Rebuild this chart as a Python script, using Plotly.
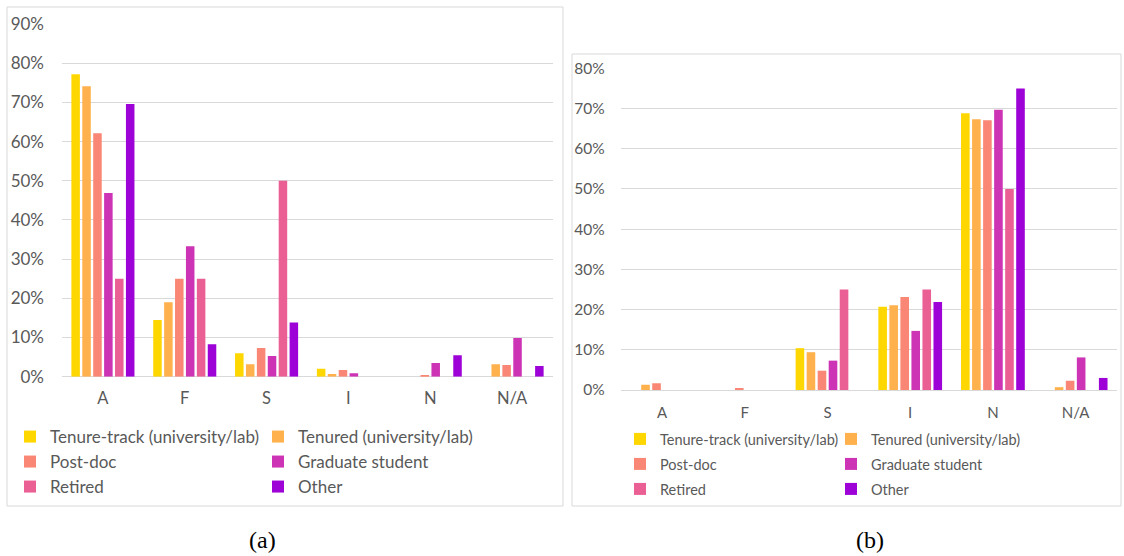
import plotly.graph_objects as go

categories = ["A", "F", "S", "I", "N", "N/A"]
groups = ["Tenure-track (university/lab)", "Tenured (university/lab)", "Post-doc",
          "Graduate student", "Retired", "Other"]
colors = ["#FFD700", "#FFB14E", "#FA8775", "#CD34B5", "#EA5F94", "#9D02D7"]

# panel (a)
tt_a = [0.772, 0.145, 0.060, 0.020, 0.0, 0.0]
tenured_a = [0.741, 0.190, 0.032, 0.007, 0.0, 0.032]
postdoc_a = [0.621, 0.250, 0.073, 0.017, 0.004, 0.030]
grad_a = [0.469, 0.333, 0.053, 0.009, 0.035, 0.099]
retired_a = [0.250, 0.250, 0.500, 0.0, 0.0, 0.0]
other_a = [0.696, 0.083, 0.138, 0.0, 0.055, 0.027]

# panel (b)
tt_b = [0.0, 0.0, 0.104, 0.207, 0.688, 0.0]
tenured_b = [0.013, 0.0, 0.094, 0.211, 0.673, 0.007]
postdoc_b = [0.017, 0.005, 0.048, 0.231, 0.671, 0.023]
grad_b = [0.0, 0.0, 0.073, 0.147, 0.697, 0.081]
retired_b = [0.0, 0.0, 0.250, 0.250, 0.500, 0.0]
other_b = [0.0, 0.0, 0.0, 0.219, 0.750, 0.030]

series_a = [tt_a, tenured_a, postdoc_a, grad_a, retired_a, other_a]
series_b = [tt_b, tenured_b, postdoc_b, grad_b, retired_b, other_b]

W, H = 1124, 556
FONT = "Lato"
GREY = "#595959"
GRID = "#D9D9D9"


def px_x(v):
    return v / W


def px_y(v):
    return (H - v) / H


fig = go.Figure()

# each legend row holds two entries (Excel-style two-column legend)
legend_rows_a = ["legend", "legend", "legend2", "legend2", "legend3", "legend3"]
legend_rows_b = ["legend4", "legend4", "legend5", "legend5", "legend6", "legend6"]

for name, vals, col, lg in zip(groups, series_a, colors, legend_rows_a):
    fig.add_trace(go.Bar(x=categories, y=vals, name=name, marker_color=col,
                         marker_line_width=0, xaxis="x", yaxis="y", legend=lg))
for name, vals, col, lg in zip(groups, series_b, colors, legend_rows_b):
    fig.add_trace(go.Bar(x=categories, y=vals, name=name, marker_color=col,
                         marker_line_width=0, xaxis="x2", yaxis="y2", legend=lg))

axis_common = dict(showline=False, ticks="", color=GREY, automargin=False)

fig.update_layout(
    width=W, height=H,
    margin=dict(l=0, r=0, t=0, b=0, autoexpand=False),
    paper_bgcolor="white", plot_bgcolor="white",
    barmode="group", bargap=0.2, bargroupgap=0.22,
    font=dict(family=FONT, color=GREY),
    xaxis=dict(domain=[px_x(62), px_x(553)], anchor="y", showgrid=False,
               tickfont=dict(size=16.5, color=GREY), ticklabelstandoff=10, **axis_common),
    yaxis=dict(domain=[px_y(376.7), px_y(24)], anchor="x", range=[0, 0.9], dtick=0.1,
               tickformat=".0%", gridcolor=GRID, zerolinecolor=GRID, zerolinewidth=1,
               tickfont=dict(size=17, color=GREY), ticklabelstandoff=17, **axis_common),
    xaxis2=dict(domain=[px_x(620.7), px_x(1117)], anchor="y2", showgrid=False,
                tickfont=dict(size=15, color=GREY), ticklabelstandoff=12, **axis_common),
    yaxis2=dict(domain=[px_y(390), px_y(68.3)], anchor="x2", range=[0, 0.8], dtick=0.1,
                tickformat=".0%", gridcolor=GRID, zerolinecolor=GRID, zerolinewidth=1,
                tickfont=dict(size=15.5, color=GREY), ticklabelstandoff=15, **axis_common),
)

leg_a = dict(orientation="h", xanchor="left", yanchor="middle", entrywidth=203,
             font=dict(size=17, color=GREY), bgcolor="rgba(0,0,0,0)", traceorder="normal")
leg_b = dict(orientation="h", xanchor="left", yanchor="middle", entrywidth=166,
             font=dict(size=14.5, color=GREY), bgcolor="rgba(0,0,0,0)", traceorder="normal")

fig.update_layout(
    legend=dict(x=px_x(10), y=px_y(437), **leg_a),
    legend2=dict(x=px_x(10), y=px_y(462), **leg_a),
    legend3=dict(x=px_x(10), y=px_y(487), **leg_a),
    legend4=dict(x=px_x(620), y=px_y(439), **leg_b),
    legend5=dict(x=px_x(620), y=px_y(464), **leg_b),
    legend6=dict(x=px_x(620), y=px_y(489), **leg_b),
)

# panel frames
fig.add_shape(type="rect", xref="paper", yref="paper",
              x0=px_x(7), x1=px_x(563), y0=px_y(506), y1=px_y(7),
              line=dict(color=GRID, width=1), fillcolor="rgba(0,0,0,0)", layer="below")
fig.add_shape(type="rect", xref="paper", yref="paper",
              x0=px_x(572), x1=px_x(1121), y0=px_y(506), y1=px_y(54),
              line=dict(color=GRID, width=1), fillcolor="rgba(0,0,0,0)", layer="below")

# captions
for label, cx in [("(a)", 262), ("(b)", 870)]:
    fig.add_annotation(text=label, x=px_x(cx), y=px_y(540), xref="paper", yref="paper",
                       showarrow=False, xanchor="center", yanchor="middle",
                       font=dict(family="Liberation Serif", size=24, color="black"))

# drop the browser's default body margin so the figure sits at the page origin
fig.write_html("out.html", config={"displayModeBar": False},
               post_script="document.body.style.margin='0px';")
